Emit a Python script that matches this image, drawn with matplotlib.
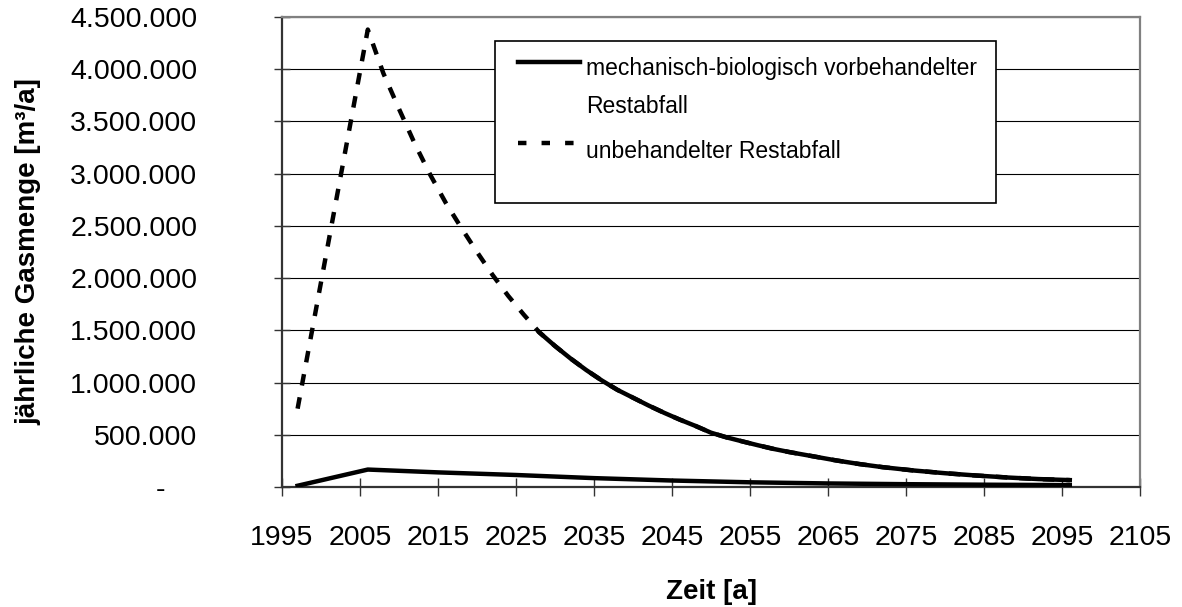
import matplotlib
matplotlib.use("Agg")
import matplotlib.pyplot as plt
from matplotlib.ticker import FuncFormatter, MultipleLocator
from matplotlib.patches import Rectangle

plt.rcParams['font.family'] = ['Liberation Sans', 'DejaVu Sans']

# unbehandelter Restabfall
years_unb = [1997, 2006, 2008, 2010, 2012, 2014, 2016, 2018, 2020, 2022, 2024,
             2026, 2028, 2030, 2032, 2034, 2036, 2038, 2040, 2042, 2044, 2046,
             2048, 2050, 2052, 2054, 2056, 2058, 2060, 2063, 2066, 2069, 2072,
             2076, 2080, 2084, 2088, 2092, 2096]
gas_unb = [750000, 4380000, 3960000, 3620000, 3290000, 2990000, 2720000, 2480000,
           2250000, 2030000, 1830000, 1650000, 1480000, 1350000, 1230000, 1120000,
           1020000, 930000, 855000, 780000, 710000, 645000, 585000, 520000, 475000,
           437000, 400000, 365000, 335000, 295000, 255000, 220000, 190000, 158000,
           132000, 110000, 91000, 76000, 66000]

# mechanisch-biologisch vorbehandelter Restabfall
years_mbv = [1997, 2006, 2015, 2025, 2035, 2045, 2055, 2065, 2075, 2085, 2096]
gas_mbv = [12000, 167000, 140000, 115000, 85000, 62000, 45000, 34000, 27000,
           22000, 18000]

label_mbv = 'mechanisch-biologisch vorbehandelter\nRestabfall'
label_unb = 'unbehandelter Restabfall'

fig = plt.figure(figsize=(11.82, 6.07), dpi=100)
ax = fig.add_axes([282/1182, 1-487/607, 858/1182, 470/607])

lw = 3.2
ax.plot(years_mbv, gas_mbv, color='black', lw=lw, solid_joinstyle='round', zorder=3)
ax.plot(years_unb, gas_unb, color='black', lw=lw, dashes=(2.6, 2.7),
        dash_capstyle='butt', zorder=3)
# the dense tail of the dashed series renders as a continuous line in the original
tail = [i for i, y in enumerate(years_unb) if y >= 2028]
ax.plot([years_unb[i] for i in tail], [gas_unb[i] for i in tail],
        color='black', lw=lw, solid_joinstyle='round', zorder=3)

ax.set_xlim(1995, 2105)
ax.set_ylim(0, 4500000)
ax.set_xticks(range(1995, 2106, 10))
ax.yaxis.set_major_locator(MultipleLocator(500000))


def de_fmt(v, pos):
    if v == 0:
        return '-    '
    return f"{int(round(v)):,}".replace(",", ".")


ax.yaxis.set_major_formatter(FuncFormatter(de_fmt))
ax.yaxis.grid(True, color='black', lw=0.8)
ax.set_axisbelow(True)

ax.tick_params(axis='y', direction='inout', length=12, width=1, pad=55,
               labelsize=20.5, color='#333333')
ax.tick_params(axis='x', direction='inout', length=13, width=1, pad=21,
               labelsize=20.5, color='#333333')

for s in ['left', 'bottom']:
    ax.spines[s].set_color('#333333')
    ax.spines[s].set_linewidth(1.6)
for s in ['top', 'right']:
    ax.spines[s].set_color('#808080')
    ax.spines[s].set_linewidth(1.6)

# legend box
ax.add_patch(Rectangle((0.2483, 0.6043), 0.8322-0.2483, 0.9489-0.6043,
                       transform=ax.transAxes, facecolor='white',
                       edgecolor='black', lw=1.2, zorder=4))
ax.plot([0.2751, 0.3473], [0.9043, 0.9043], transform=ax.transAxes,
        color='black', lw=lw, zorder=5)
ax.plot([0.2751, 0.3473], [0.7319, 0.7319], transform=ax.transAxes,
        color='black', lw=lw, dashes=(1.9, 3.4), zorder=5)
ax.text(0.3543, 0.8766, label_mbv.split('\n')[0], transform=ax.transAxes,
        fontsize=16.5, va='baseline', zorder=6)
ax.text(0.3543, 0.7957, label_mbv.split('\n')[1], transform=ax.transAxes,
        fontsize=16.5, va='baseline', zorder=6)
ax.text(0.3543, 0.70, label_unb, transform=ax.transAxes,
        fontsize=16.5, va='baseline', zorder=6)

fig.text(28/1182, 1-252/607, 'jährliche Gasmenge [m³/a]', rotation=90,
         ha='center', va='center', fontsize=20, fontweight='bold')
fig.text(711/1182, 1-592/607, 'Zeit [a]', ha='center', va='center',
         fontsize=20, fontweight='bold')

fig.savefig('out.png', dpi=100)
